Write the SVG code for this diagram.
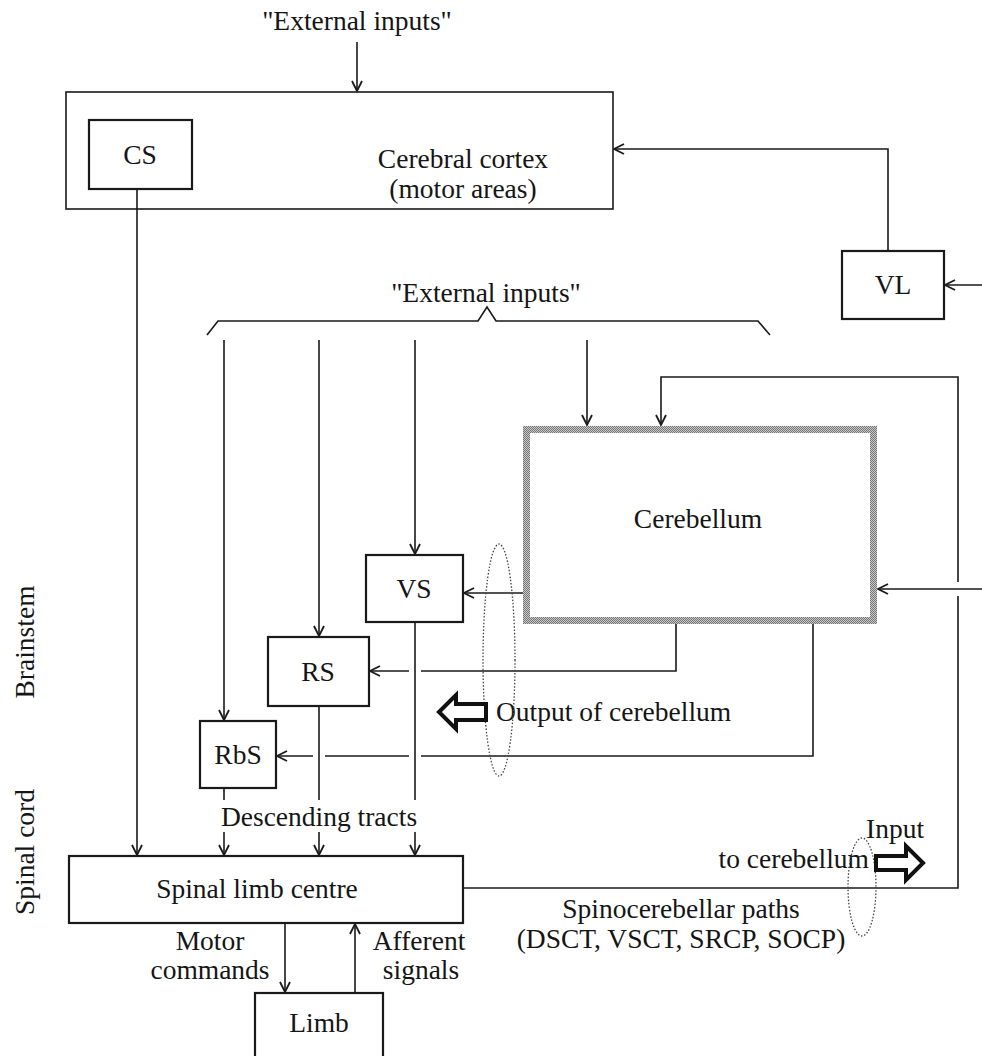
<svg xmlns="http://www.w3.org/2000/svg" width="982" height="1056" viewBox="0 0 982 1056">
  <defs>
    <style>
      text { font-family: "Liberation Serif", "Times New Roman", serif; font-size: 27.5px; fill: #151515; }
      .mid { text-anchor: middle; }
      .box { fill: #ffffff; stroke: #1a1a1a; stroke-width: 2.2; }
      .thin { fill: #ffffff; stroke: #1a1a1a; stroke-width: 1.6; }
      .wire { fill: none; stroke: #1a1a1a; stroke-width: 1.6; }
      .arr { fill: none; stroke: #1a1a1a; stroke-width: 1.6; marker-end: url(#head); }
      .ring { fill: none; stroke: #444; stroke-width: 1.3; stroke-dasharray: 1.5 1.8; }
      .fat { fill: #ffffff; stroke: #111; stroke-width: 4; stroke-linejoin: miter; }
    </style>
    <marker id="head" viewBox="0 0 12 12" refX="11" refY="6" markerWidth="12" markerHeight="12" markerUnits="userSpaceOnUse" orient="auto">
      <path d="M1,1 L11,6 L1,11" fill="none" stroke="#1a1a1a" stroke-width="1.8"/>
    </marker>
    <pattern id="dither" width="2" height="2" patternUnits="userSpaceOnUse">
      <rect width="2" height="2" fill="#c8c8c8"/>
      <rect width="1" height="1" fill="#767676"/>
      <rect x="1" y="1" width="1" height="1" fill="#767676"/>
    </pattern>
  </defs>

  <!-- side labels -->
  <text class="mid" transform="translate(34,642) rotate(-90)">Brainstem</text>
  <text class="mid" transform="translate(34,852) rotate(-90)">Spinal cord</text>

  <!-- free labels -->
  <text class="mid" x="357" y="30">"External inputs"</text>
  <text class="mid" x="486" y="302">"External inputs"</text>
  <text class="mid" x="319" y="826">Descending tracts</text>
  <text x="496" y="721">Output of cerebellum</text>
  <text class="mid" x="895" y="838">Input</text>
  <text x="869" y="868" text-anchor="end">to cerebellum</text>
  <text class="mid" x="681" y="918">Spinocerebellar paths</text>
  <text class="mid" x="681" y="948">(DSCT, VSCT, SRCP, SOCP)</text>
  <text class="mid" x="210" y="950">Motor</text>
  <text class="mid" x="210" y="979">commands</text>
  <text class="mid" x="419" y="950">Afferent</text>
  <text class="mid" x="421" y="979">signals</text>

  <!-- nodes -->
  <g id="cortex">
    <rect class="thin" x="66" y="92" width="547" height="117"/>
    <text class="mid" x="463" y="168">Cerebral cortex</text>
    <text class="mid" x="463" y="198">(motor areas)</text>
  </g>
  <g id="cs">
    <rect class="box" x="89" y="120" width="103" height="69"/>
    <text class="mid" x="140" y="164">CS</text>
  </g>
  <g id="vl">
    <rect class="box" x="842" y="251" width="102" height="68"/>
    <text class="mid" x="893" y="294">VL</text>
  </g>
  <g id="cerebellum">
    <rect x="526.5" y="429.5" width="347" height="191" fill="#ffffff" stroke="url(#dither)" stroke-width="7"/>
    <text class="mid" x="698" y="528">Cerebellum</text>
  </g>
  <g id="vs">
    <rect class="box" x="366" y="555" width="97" height="67"/>
    <text class="mid" x="414" y="598">VS</text>
  </g>
  <g id="rs">
    <rect class="box" x="268" y="637" width="101" height="69"/>
    <text class="mid" x="318" y="681">RS</text>
  </g>
  <g id="rbs">
    <rect class="box" x="200" y="721" width="76" height="67"/>
    <text class="mid" x="238" y="764">RbS</text>
  </g>
  <g id="spinal">
    <rect class="box" x="69" y="856" width="394" height="67"/>
    <text class="mid" x="257" y="898">Spinal limb centre</text>
  </g>
  <g id="limb">
    <rect class="box" x="255" y="993" width="128" height="80"/>
    <text class="mid" x="319" y="1032">Limb</text>
  </g>

  <!-- connectors -->
  <g id="connectors">
    <!-- outside input to cortex -->
    <line class="arr" x1="357" y1="42" x2="357" y2="91"/>
    <!-- VL to cortex -->
    <polyline class="arr" points="888,251 888,149 614,149"/>
    <line class="arr" x1="982" y1="285" x2="945" y2="285"/>
    <!-- corticospinal -->
    <line class="arr" x1="137" y1="189" x2="137" y2="855"/>

    <!-- brace over the brainstem inputs -->
    <path class="wire" d="M207,335 L218,321 L478,321 L487,307 L496,321 L758,321 L770,335"/>
    <line class="arr" x1="224" y1="340" x2="224" y2="720"/>
    <line class="arr" x1="319" y1="340" x2="319" y2="636"/>
    <line class="arr" x1="415" y1="340" x2="415" y2="554"/>
    <line class="arr" x1="587" y1="340" x2="587" y2="425"/>

    <!-- loop back into cerebellum -->
    <polyline class="arr" points="958,582 958,377 661,377 661,425"/>
    <polyline class="wire" points="463,888 958,888 958,596"/>
    <line class="arr" x1="982" y1="589" x2="878" y2="589"/>

    <!-- cerebellar outputs -->
    <line class="arr" x1="523" y1="593" x2="464" y2="593"/>
    <polyline class="wire" points="676,624 676,671 421,671"/>
    <line class="arr" x1="409" y1="671" x2="370" y2="671"/>
    <polyline class="wire" points="813,624 813,756 421,756"/>
    <line class="wire" x1="409" y1="756" x2="325" y2="756"/>
    <line class="arr" x1="313" y1="756" x2="277" y2="756"/>

    <!-- descending tracts -->
    <line class="wire" x1="224" y1="788" x2="224" y2="800"/>
    <line class="wire" x1="319" y1="706" x2="319" y2="800"/>
    <line class="wire" x1="415" y1="622" x2="415" y2="800"/>
    <line class="arr" x1="224" y1="832" x2="224" y2="855"/>
    <line class="arr" x1="319" y1="832" x2="319" y2="855"/>
    <line class="arr" x1="415" y1="832" x2="415" y2="855"/>

    <!-- limb loop -->
    <line class="arr" x1="285" y1="923" x2="285" y2="992"/>
    <line class="arr" x1="355" y1="993" x2="355" y2="924"/>

    <!-- grouping rings and block arrows -->
    <ellipse class="ring" cx="499" cy="660" rx="16" ry="116"/>
    <ellipse class="ring" cx="862" cy="887" rx="14" ry="49"/>
    <polygon class="fat" points="439,712 456,695 456,704 486,704 486,720 456,720 456,729"/>
    <polygon class="fat" points="923,863 906,846 906,856 876,856 876,870 906,870 906,880"/>
  </g>
</svg>
